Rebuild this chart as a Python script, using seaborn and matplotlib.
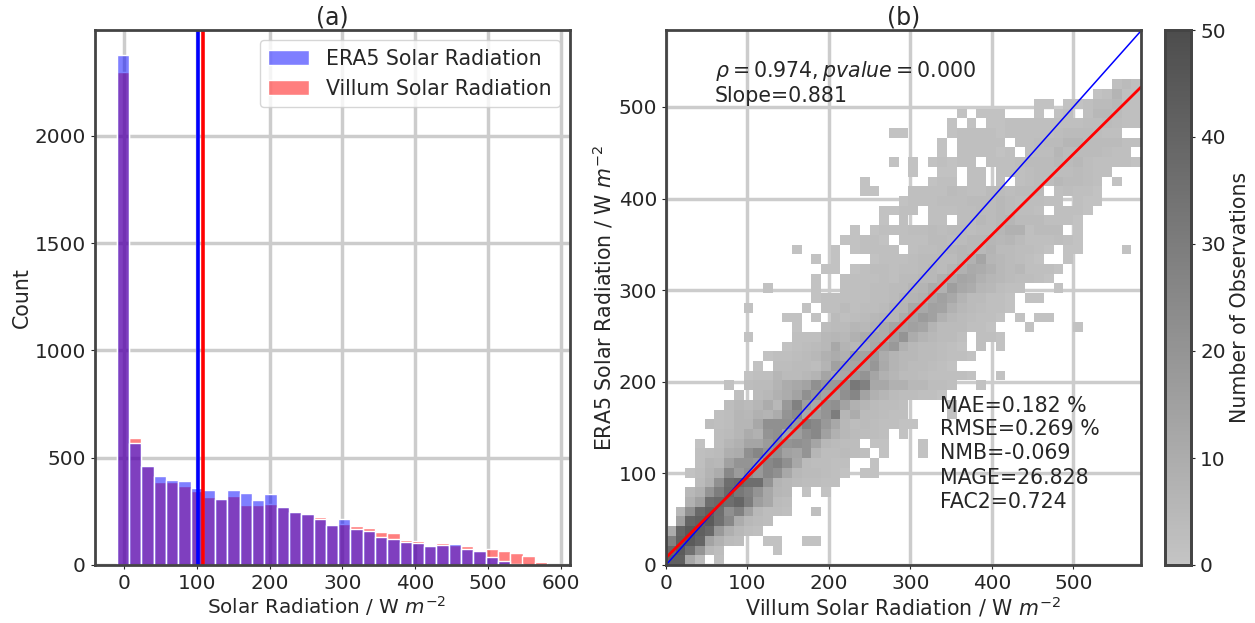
import numpy as np
import pandas as pd
import seaborn as sns
import matplotlib.pyplot as plt
from matplotlib.colors import LinearSegmentedColormap

#%% histogram counts per bin
era5_counts = [2376, 567, 461, 413, 394, 390, 357, 349, 309, 348, 337, 304, 329, 269, 248, 239, 213, 188,
               213, 168, 158, 129, 123, 107, 102, 87, 92, 96, 75, 64, 36, 19, 5, 0, 1]
villum_counts = [2297, 590, 461, 385, 387, 370, 343, 317, 309, 320, 280, 280, 283, 269, 248, 239, 225, 188,
                 193, 180, 174, 152, 148, 116, 112, 87, 101, 92, 87, 64, 73, 64, 56, 40, 16]
era5_mean = 101
villum_mean = 108

#%% 2d counts of panel (b): first filled column of each row, then the counts
row_start = [0, 0, 0, 0, 1, 1, 2, 2, 3, 2, 3, 3, 3, 5, 4, 5, 6, 7, 6, 8, 9, 10, 12, 8, 13,
             12, 8, 15, 10, 15, 16, 15, 13, 18, 19, 22, 22, 24, 20, 20, 25, 23, 28, 28, 23, 29, 30, 38, 44, 46]
row_counts = [
    [42, 42, 12, 4, 0, 2],
    [38, 44, 35, 20, 5, 3, 0, 0, 0, 0, 0, 1],
    [28, 42, 44, 40, 14, 8, 4, 3, 0, 0, 1, 1, 0, 0, 1, 1],
    [10, 40, 45, 42, 38, 18, 9, 5, 3, 2],
    [15, 40, 42, 44, 35, 25, 10, 5, 4, 3],
    [5, 22, 38, 42, 36, 22, 28, 15, 5, 3, 3, 2, 0, 0, 2],
    [8, 15, 36, 38, 36, 40, 30, 16, 12, 4, 3],
    [5, 8, 20, 30, 38, 32, 28, 20, 12, 6, 5, 0, 1, 0, 1],
    [4, 8, 22, 36, 38, 36, 36, 20, 7, 5, 4, 3, 3, 2, 2],
    [1, 3, 7, 10, 25, 17, 22, 18, 25, 22, 12, 5, 4, 4, 3, 2, 1, 0, 1, 1],
    [2, 6, 5, 15, 20, 20, 18, 25, 28, 22, 12, 4, 3, 3, 2, 2, 0, 0, 1],
    [2, 3, 4, 9, 10, 22, 26, 20, 22, 15, 13, 20, 6, 3, 3, 4, 3, 2, 0, 1, 0, 0, 0, 1],
    [1, 0, 3, 6, 8, 13, 13, 17, 22, 20, 22, 20, 13, 5, 4, 3, 3, 0, 1, 1, 0, 0, 0, 1],
    [3, 4, 6, 10, 8, 20, 22, 14, 16, 22, 25, 15, 8, 5, 4, 3, 3, 2, 0, 1],
    [3, 2, 3, 6, 6, 12, 22, 22, 22, 18, 28, 25, 18, 12, 5, 3, 4, 3, 2, 2, 1, 1],
    [2, 3, 6, 5, 8, 7, 10, 20, 24, 12, 16, 20, 30, 6, 10, 4, 4, 3, 2, 2, 0, 0, 0, 0, 1],
    [3, 5, 4, 6, 10, 5, 18, 28, 16, 12, 20, 22, 14, 8, 6, 4, 3, 3, 2, 0, 0, 0, 0, 1],
    [2, 0, 4, 5, 8, 10, 14, 22, 18, 14, 14, 22, 26, 14, 8, 6, 4, 3, 3, 2, 2, 1],
    [1, 0, 3, 4, 4, 7, 10, 12, 14, 22, 18, 18, 20, 32, 28, 12, 12, 8, 8, 5, 5, 3, 3, 2, 0, 0, 1],
    [1, 2, 2, 6, 4, 4, 5, 7, 13, 10, 12, 17, 20, 13, 8, 6, 4, 4, 3, 2, 2, 2, 2, 1, 0, 0, 1],
    [1, 0, 3, 3, 4, 4, 3, 7, 15, 13, 13, 14, 19, 11, 7, 5, 4, 4, 3, 2, 1],
    [1, 2, 2, 3, 4, 5, 8, 10, 8, 15, 14, 17, 10, 7, 5, 5, 4, 4, 3, 2, 2, 1],
    [1, 2, 3, 4, 5, 12, 7, 5, 8, 12, 15, 18, 8, 5, 4, 4, 3, 2, 1, 0, 2, 0, 1],
    [1, 0, 0, 0, 0, 2, 2, 2, 5, 6, 5, 8, 10, 11, 10, 15, 20, 10, 7, 5, 4, 4, 2, 0, 2, 2, 1],
    [1, 0, 0, 3, 4, 4, 6, 5, 7, 10, 13, 13, 15, 13, 7, 4, 4, 4, 2, 2, 1, 0, 0, 0, 1, 0, 0, 0, 0, 1],
    [1, 1, 0, 1, 0, 4, 2, 3, 4, 5, 6, 6, 10, 13, 17, 15, 8, 5, 4, 3, 2, 2, 1, 0, 1, 0, 1, 1],
    [1, 0, 0, 0, 0, 0, 1, 0, 2, 2, 4, 2, 3, 3, 4, 6, 7, 12, 12, 15, 14, 8, 5, 4, 3, 2, 2, 1],
    [1, 2, 2, 2, 2, 2, 3, 3, 4, 6, 7, 8, 12, 15, 12, 7, 4, 4, 2, 2, 1, 0, 1, 1],
    [1, 0, 0, 0, 0, 1, 0, 0, 2, 2, 2, 3, 3, 4, 4, 6, 7, 10, 8, 16, 12, 10, 6, 5, 3, 2, 2, 0, 0, 0, 1],
    [1, 0, 0, 2, 2, 2, 2, 3, 2, 4, 4, 5, 5, 8, 10, 13, 12, 8, 6, 5, 4, 3, 3, 2, 1],
    [1, 1, 0, 1, 2, 3, 3, 2, 3, 3, 4, 5, 4, 6, 8, 11, 10, 8, 5, 4, 5, 2, 2, 2, 1],
    [1, 0, 1, 0, 0, 0, 1, 2, 2, 2, 3, 4, 4, 4, 4, 6, 8, 13, 6, 5, 4, 3, 2, 1, 0, 0, 1],
    [1, 0, 0, 0, 1, 0, 1, 2, 2, 2, 2, 0, 2, 3, 3, 4, 5, 6, 5, 5, 7, 4, 4, 3, 3, 2, 1, 0, 1, 1, 0, 0, 0, 0, 1],
    [1, 1, 2, 2, 1, 0, 2, 2, 2, 4, 4, 3, 4, 5, 5, 6, 5, 6, 4, 2, 2, 2, 3, 2, 1],
    [1, 0, 1, 2, 2, 2, 3, 3, 4, 3, 4, 4, 3, 4, 4, 6, 8, 8, 2, 4, 4, 4, 0, 1],
    [1, 0, 2, 0, 0, 2, 2, 0, 3, 3, 5, 4, 5, 6, 4, 4, 4, 2, 2, 2, 1],
    [1, 1, 2, 2, 0, 2, 2, 2, 3, 3, 4, 4, 5, 4, 3, 3, 2, 0, 2, 2, 2, 1],
    [1, 2, 2, 2, 3, 3, 3, 4, 4, 4, 5, 4, 3, 3, 3, 2, 2, 0, 2, 1, 1],
    [1, 1, 0, 0, 0, 2, 2, 2, 2, 4, 3, 2, 2, 4, 4, 3, 4, 4, 4, 0, 2, 3, 2, 2, 1],
    [1, 0, 0, 0, 0, 0, 0, 1, 2, 2, 0, 2, 2, 0, 2, 0, 2, 3, 4, 3, 5, 4, 4, 3, 2, 0, 1],
    [1, 0, 0, 1, 1, 0, 2, 2, 0, 2, 2, 2, 3, 4, 4, 3, 3, 4, 3, 2, 2],
    [1, 0, 1, 0, 1, 2, 1, 2, 2, 0, 2, 2, 2, 3, 4, 4, 4, 5, 4, 5, 3, 2, 2, 2, 2, 1],
    [1, 0, 2, 2, 2, 2, 1, 2, 0, 2, 3, 3, 6, 4, 4, 4, 4, 3, 2, 2],
    [1, 0, 2, 2, 2, 2, 2, 0, 2, 2, 3, 4, 4, 6, 6, 4, 4, 4, 4, 2, 2],
    [1, 1, 0, 0, 0, 0, 1, 2, 2, 2, 2, 1, 2, 2, 2, 2, 2, 3, 4, 4, 4, 3, 2, 2],
    [1, 0, 1, 0, 1, 1, 2, 2, 2, 2, 2, 2, 2, 2, 3, 3, 4, 3, 2, 2],
    [1, 0, 1, 1, 1, 0, 0, 0, 1, 0, 1, 2, 0, 2, 5, 5, 4, 2, 2],
    [1, 1, 0, 1, 1, 2, 4, 4, 5, 2, 2],
    [1, 2, 7, 2, 2],
    [2, 4, 2],
]

cbar_ticks = [0, 10, 20, 30, 40, 50]
stats_labels = ['MAE=0.182 %', 'RMSE=0.269 %', 'NMB=-0.069', 'MAGE=26.828', 'FAC2=0.724']
slope = 0.881
intercept = 8

#%% build tables
hist_edges = -10 + 16.9 * np.arange(len(era5_counts) + 1)
hist_centers = (hist_edges[:-1] + hist_edges[1:]) / 2

n_cols = 49
n_rows = len(row_counts)
x_edges = 11.9 * np.arange(n_cols + 1)
y_edges = 10.6 * np.arange(n_rows + 1)

records = []
for j in range(n_rows):
    for k, c in enumerate(row_counts[j]):
        if c > 0:
            i = row_start[j] + k
            records.append([x_edges[i] + 5.95, y_edges[j] + 5.3, c])
df = pd.DataFrame(records, columns=['villum', 'era5', 'n'])

#%% style
sns.set_theme(style='whitegrid', rc={'grid.color': '#cccccc', 'grid.linewidth': 2.5,
                                     'axes.edgecolor': '#444444', 'axes.linewidth': 2,
                                     'xtick.bottom': True, 'ytick.left': True,
                                     'xtick.major.size': 3, 'ytick.major.size': 3,
                                     'xtick.major.width': 0.8, 'ytick.major.width': 0.8,
                                     'xtick.color': '.15', 'ytick.color': '.15'})
fs = 14.8
tick_fs = 14.4
W, H = 1255, 623
fig = plt.figure(figsize=(W / 100, H / 100), dpi=100)
ax1 = fig.add_axes([95 / W, (H - 565) / H, 475 / W, 535 / H])
ax2 = fig.add_axes([666 / W, (H - 565) / H, 475 / W, 535 / H])
cax = fig.add_axes([1165 / W, (H - 565) / H, 26 / W, 535 / H])

#%% panel a, blue has to sit on top of the red
sns.histplot(x=hist_centers, weights=villum_counts, bins=hist_edges.tolist(), color='red', alpha=0.5,
             edgecolor='white', linewidth=1, label='Villum Solar Radiation', ax=ax1)
sns.histplot(x=hist_centers, weights=era5_counts, bins=hist_edges.tolist(), color='blue', alpha=0.5,
             edgecolor='white', linewidth=1, label='ERA5 Solar Radiation', ax=ax1)
ax1.axvline(era5_mean, color='blue', lw=2.6)
ax1.axvline(villum_mean, color='red', lw=2.6)
ax1.set_xlim(-40, 613)
ax1.set_ylim(0, 2493)
ax1.set_xticks([0, 100, 200, 300, 400, 500, 600])
ax1.set_yticks([0, 500, 1000, 1500, 2000])
ax1.set_xlabel('Solar Radiation / W $m^{-2}$', fontsize=14.4, labelpad=1, x=0.488)
ax1.set_ylabel('Count', fontsize=fs, labelpad=2)
ax1.set_title('(a)', fontsize=17, pad=2)
ax1.tick_params(labelsize=tick_fs)
handles, labels = ax1.get_legend_handles_labels()
ax1.legend(handles[::-1], labels[::-1], loc='upper right', fontsize=fs, frameon=True,
           framealpha=0.8, borderaxespad=0.5)

#%% panel b
grey_map = LinearSegmentedColormap.from_list('obs', ['#c4c4c4', '#4d4d4d'])
sns.histplot(data=df, x='villum', y='era5', weights='n', bins=[x_edges.tolist(), y_edges.tolist()],
             cmap=grey_map, vmin=0, vmax=50, cbar=True, cbar_ax=cax, ax=ax2)
xmax = x_edges[-1]
ax2.plot([0, xmax], [0, xmax], color='blue', lw=1.1)
ax2.plot([0, xmax], [intercept, slope * xmax + intercept], color='red', lw=2)
ax2.set_xlim(0, xmax)
ax2.set_ylim(0, 584)
ax2.set_xticks([0, 100, 200, 300, 400, 500])
ax2.set_yticks([0, 100, 200, 300, 400, 500])
ax2.set_xlabel('Villum Solar Radiation / W $m^{-2}$', fontsize=fs, labelpad=1)
ax2.set_ylabel('ERA5 Solar Radiation / W $m^{-2}$', fontsize=fs, labelpad=2)
ax2.set_title('(b)', fontsize=17, pad=2)
ax2.tick_params(labelsize=tick_fs)
ax2.text(60, 539, r'$\rho=0.974, pvalue=0.000$', fontsize=fs, va='center', color='.15')
ax2.text(60, 512, 'Slope=0.881', fontsize=fs, va='center', color='.15')
for lab, yy in zip(stats_labels, [174, 149, 122, 95, 69]):
    ax2.text(336, yy, lab, fontsize=fs, va='center', color='.15')

#%% colorbar
cax.set_yticks(cbar_ticks)
cax.tick_params(labelsize=tick_fs, right=True, left=False, length=3, width=0.8)
cax.set_ylabel('Number of Observations', fontsize=fs, labelpad=3)
cax.yaxis.set_label_position('right')
cax.grid(False)
for sp in cax.spines.values():
    sp.set_visible(True)
    sp.set_linewidth(2)
    sp.set_edgecolor('#444444')

fig.savefig('out.png', dpi=100)
